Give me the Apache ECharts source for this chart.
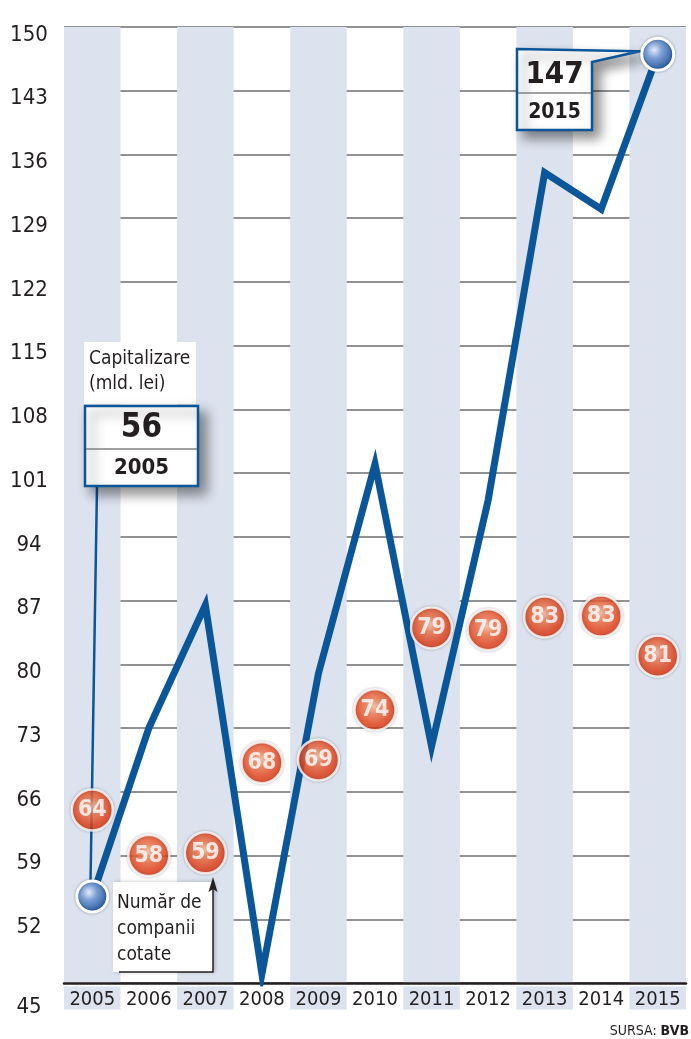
<!DOCTYPE html>
<html>
<head>
<meta charset="utf-8">
<script src="https://cdn.jsdelivr.net/npm/echarts@6/dist/echarts.min.js"></script>
<style>
  html, body { margin: 0; padding: 0; background: #fff; }
  #chart { width: 691px; height: 1039px; }
</style>
</head>
<body>
<div id="chart"></div>
<script>
var years = ['2005', '2006', '2007', '2008', '2009', '2010', '2011', '2012', '2013', '2014', '2015']
// capitalizare (mld. lei)
var capital = [54.5, 73, 86.5, 46, 79, 102, 71, 98, 134, 130, 147]
// numar de companii cotate, and the level where each bubble sits
var companies = [64, 58, 59, 68, 69, 74, 79, 79, 83, 83, 81]
var companiesLevel = [64, 59, 59.3, 69.2, 69.5, 75, 84, 83.8, 85.2, 85.3, 80.9]
var yTicks = [45, 52, 59, 66, 73, 80, 87, 94, 101, 108, 115, 122, 129, 136, 143, 150]
var startNote = ['56', '2005']
var endNote = ['147', '2015']

var FONT = "'Liberation Sans Narrow', 'DejaVu Sans Condensed', sans-serif"
var INK = '#231f20'
var BLUE = '#0a5699'
var BAND = '#dce3ef'

var chart = echarts.init(document.getElementById('chart'))

var sphere = {
  color: new echarts.graphic.RadialGradient(0.4, 0.38, 0.65, [
    { offset: 0, color: '#e4ecf8' },
    { offset: 0.35, color: '#7c9fd4' },
    { offset: 1, color: '#1b4f99' }
  ]),
  borderColor: '#fff',
  borderWidth: 3,
  shadowBlur: 3,
  shadowColor: 'rgba(0,0,0,0.3)'
}

var last = capital.length - 1
var lineData = capital.map(function (v, i) {
  if (i === 0 || i === last) {
    return { value: v, symbol: 'circle', symbolSize: i === 0 ? 31 : 32, itemStyle: sphere }
  }
  return v
})

chart.setOption({
  animation: false,
  grid: { left: 64, right: 5, top: 27, bottom: 56, containLabel: false },
  xAxis: {
    type: 'category',
    data: years,
    boundaryGap: true,
    axisLine: { show: true, lineStyle: { color: INK, width: 2.5 } },
    axisTick: { show: false },
    splitLine: { show: false },
    splitArea: { show: true, areaStyle: { color: [BAND, 'rgba(0,0,0,0)'] } },
    axisLabel: {
      margin: 1,
      interval: 0,
      formatter: function (v, i) {
        return i % 2 === 0 ? '{a|' + v + '}' : '{b|' + v + '}'
      },
      rich: {
        a: { fontFamily: FONT, fontSize: 20, color: INK, backgroundColor: BAND, width: 56.5, lineHeight: 28, padding: [3, 0, 0, 0], align: 'center' },
        b: { fontFamily: FONT, fontSize: 20, color: INK, width: 56.5, lineHeight: 28, padding: [3, 0, 0, 0], align: 'center' }
      }
    }
  },
  yAxis: {
    type: 'value',
    min: 45,
    max: 150,
    axisLine: { show: false },
    axisTick: { show: false, customValues: yTicks },
    splitLine: { show: true, lineStyle: { color: '#6d6e70', width: 1.5 } },
    axisLabel: {
      customValues: yTicks,
      margin: 35,
      align: 'center',
      formatter: function (v) {
        return v === yTicks[0] ? '{low|' + v + '}' : '{n|' + v + '}'
      },
      rich: {
        n: { fontFamily: FONT, fontSize: 22, color: INK, padding: [16, 0, 0, 0] },
        low: { fontFamily: FONT, fontSize: 22, color: INK, padding: [48, 0, 0, 0] }
      }
    }
  },
  series: [
    {
      type: 'line',
      data: lineData,
      symbol: 'none',
      z: 3,
      lineStyle: { color: BLUE, width: 7, join: 'miter', miterLimit: 30 },
      itemStyle: { color: BLUE }
    },
    {
      type: 'scatter',
      data: companiesLevel,
      symbol: 'circle',
      symbolSize: 41,
      z: 4,
      itemStyle: {
        color: new echarts.graphic.RadialGradient(0.47, 0.42, 0.6, [
          { offset: 0, color: '#f9c2a8' },
          { offset: 0.3, color: '#f3784f' },
          { offset: 0.7, color: '#e9441d' },
          { offset: 1, color: '#df3715' }
        ]),
        borderColor: '#fff',
        borderWidth: 2.5,
        shadowBlur: 3,
        shadowColor: 'rgba(0,0,0,0.3)'
      },
      label: {
        show: true,
        position: 'inside',
        formatter: function (p) { return companies[p.dataIndex] },
        fontFamily: FONT,
        fontWeight: 'bold',
        fontSize: 23,
        color: '#fff',
        textBorderWidth: 0
      }
    }
  ]
})

function drawNotes () {
  var p0 = chart.convertToPixel({ seriesIndex: 0 }, [0, capital[0]])
  var p1 = chart.convertToPixel({ seriesIndex: 0 }, [last, capital[last]])
  var boxShadow = { shadowBlur: 12, shadowOffsetX: 7, shadowOffsetY: 7, shadowColor: 'rgba(0,0,0,0.45)' }
  chart.setOption({
    graphic: [
      // Capitalizare note
      { type: 'rect', z: 1, shape: { x: 84, y: 342, width: 112, height: 62 }, style: { fill: '#fff' } },
      { type: 'text', z: 1, left: 89, top: 347, style: { text: 'Capitalizare\n(mld. lei)', font: '19px ' + FONT, fill: INK, lineHeight: 25 } },
      { type: 'polyline', z: 1, shape: { points: [[97, 486], [p0[0] - 2, p0[1]]] }, style: { stroke: BLUE, lineWidth: 2.5, fill: null } },
      { type: 'rect', z: 1, shape: { x: 85, y: 406, width: 113, height: 80 }, style: Object.assign({ fill: '#fff', stroke: BLUE, lineWidth: 2.5 }, boxShadow) },
      { type: 'line', z: 1, shape: { x1: 86, y1: 449, x2: 197, y2: 449 }, style: { stroke: '#808080', lineWidth: 1.5 } },
      { type: 'text', z: 1, x: 141.5, y: 428, style: { text: startNote[0], font: 'bold 33px ' + FONT, fill: INK, align: 'center', verticalAlign: 'middle' } },
      { type: 'text', z: 1, x: 141.5, y: 468, style: { text: startNote[1], font: 'bold 22px ' + FONT, fill: INK, align: 'center', verticalAlign: 'middle' } },

      // 2015 note
      { type: 'polygon', z: 1, shape: { points: [[517, 49], [p1[0] - 18, p1[1] - 3], [592, 62], [592, 130], [517, 130]] }, style: Object.assign({ fill: '#fff', stroke: BLUE, lineWidth: 2.5 }, boxShadow) },
      { type: 'line', z: 1, shape: { x1: 518, y1: 93, x2: 591, y2: 93 }, style: { stroke: '#808080', lineWidth: 1.5 } },
      { type: 'text', z: 1, x: 554.5, y: 75, style: { text: endNote[0], font: 'bold 31px ' + FONT, fill: INK, align: 'center', verticalAlign: 'middle' } },
      { type: 'text', z: 1, x: 554.5, y: 113, style: { text: endNote[1], font: 'bold 21px ' + FONT, fill: INK, align: 'center', verticalAlign: 'middle' } },

      // Numar de companii cotate note
      { type: 'rect', z: 1, shape: { x: 113, y: 882, width: 100, height: 90 }, style: { fill: '#fff', shadowBlur: 4, shadowOffsetX: 2, shadowColor: 'rgba(0,0,0,0.25)' } },
      { type: 'text', z: 1, left: 117, top: 890, style: { text: 'Număr de\ncompanii\ncotate', font: '19px ' + FONT, fill: INK, lineHeight: 26 } },
      { type: 'polyline', z: 1, shape: { points: [[119, 972], [213, 972], [213, 888]] }, style: { stroke: INK, lineWidth: 1.5, fill: null } },
      { type: 'polygon', z: 1, shape: { points: [[213, 877], [208.5, 892], [213, 889], [217.5, 892]] }, style: { fill: INK } },

      // source
      {
        type: 'text', z: 1, right: 2, top: 1024,
        style: {
          text: '{r|SURSA: }{b|BVB}',
          rich: {
            r: { font: '14px ' + FONT, fill: INK },
            b: { font: 'bold 14px ' + FONT, fill: INK }
          }
        }
      }
    ]
  })
}
drawNotes()
</script>
</body>
</html>
